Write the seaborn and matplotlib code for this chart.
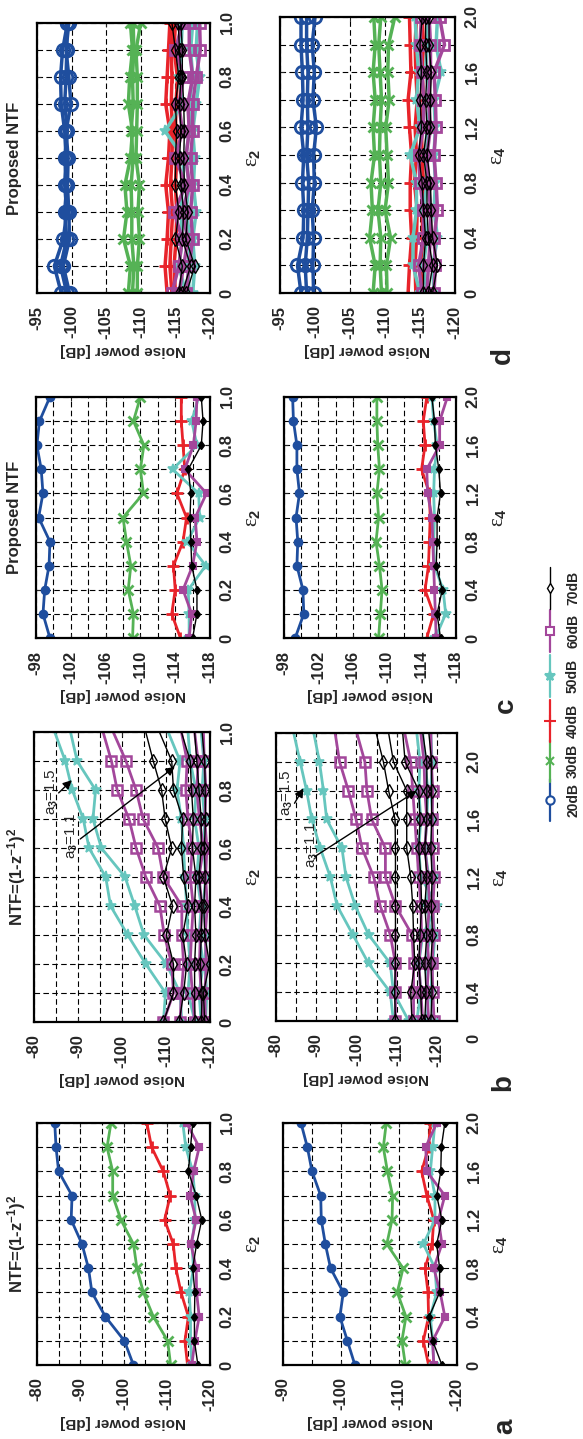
import matplotlib
matplotlib.use("Agg")
import matplotlib.pyplot as plt
import seaborn as sns
from matplotlib.ticker import MultipleLocator, FuncFormatter

# ---------------- data ----------------
EPS2 = [0, 0.1, 0.2, 0.3, 0.4, 0.5, 0.6, 0.7, 0.8, 0.9, 1.0]
EPS4 = [0, 0.2, 0.4, 0.6, 0.8, 1.0, 1.2, 1.4, 1.6, 1.8, 2.0]
EPS4_B = [0.2, 0.4, 0.6, 0.8, 1.0, 1.2, 1.4, 1.6, 1.8, 2.0, 2.2]
SNR_LABELS = ["20dB", "30dB", "40dB", "50dB", "60dB", "70dB"]

# panel a (NTF=(1-z^-1)^2)
A2_20 = [-102.3, -100.2, -95.8, -92.7, -91.9, -90.4, -87.9, -88.1, -85.0, -84.4, -84.1]
A2_30 = [-110.9, -110.2, -106.9, -104.6, -103.1, -102.3, -99.4, -97.5, -97.5, -96.2, -97.1]
A2_40 = [-114.8, -114.2, -115.0, -113.3, -112.1, -111.5, -109.5, -110.8, -109.2, -106.5, -105.4]
A2_50 = [-115.8, -115.5, -115.5, -115.2, -116.2, -115.8, -116.5, -116.5, -116.0, -114.4, -113.7]
A2_60 = [-115.8, -116.5, -117.5, -116.9, -116.8, -115.6, -116.8, -115.4, -116.2, -117.5, -114.6]
A2_70 = [-117.2, -116.4, -116.4, -116.5, -116.0, -116.9, -118.1, -116.8, -115.0, -115.5, -116.0]

A4_20 = [-102.4, -101.1, -99.8, -100.4, -98.2, -97.3, -96.6, -96.5, -95.0, -94.2, -93.1]
A4_30 = [-111.1, -110.5, -111.2, -109.7, -110.7, -107.9, -108.8, -108.9, -108.0, -107.3, -107.8]
A4_40 = [-115.1, -114.2, -115.1, -115.0, -114.5, -115.7, -116.0, -114.8, -113.9, -115.1, -115.4]
A4_50 = [-116.0, -115.8, -115.4, -116.5, -116.2, -114.2, -116.2, -116.2, -115.4, -115.8, -116.2]
A4_60 = [-116.0, -115.8, -117.9, -117.1, -116.0, -117.4, -116.8, -117.9, -114.8, -114.6, -116.5]
A4_70 = [-117.4, -115.8, -115.2, -117.0, -117.0, -116.5, -117.4, -116.5, -117.2, -117.3, -117.9]

# panel b (a3 = 1.5, 1.4, 1.3, 1.2, 1.1)
B2_50 = [[-109.4, -109.9, -105.4, -101.3, -97.4, -96.3, -92.5, -91.2, -88.7, -87.1, -84.7],
         [-113.6, -113.2, -110.1, -105.0, -102.9, -100.7, -95.3, -93.4, -94.0, -89.8, -88.3],
         [-116.6, -115.0, -115.5, -115.0, -114.7, -114.3, -114.0, -113.5, -112.5, -113.2, -110.5],
         [-118.0, -117.5, -118.5, -117.5, -118.0, -117.0, -117.5, -116.5, -116.8, -115.5, -115.0],
         [-119.0, -119.3, -118.8, -119.2, -118.5, -119.0, -118.6, -118.8, -118.2, -118.6, -118.0]]
B2_60 = [[-109.4, -111.7, -111.3, -109.6, -108.6, -105.4, -103.2, -101.6, -98.9, -97.6, -95.7],
         [-113.2, -113.5, -114.0, -113.6, -113.6, -109.4, -108.2, -104.8, -103.2, -100.9, -98.0],
         [-116.5, -116.0, -115.5, -115.8, -116.2, -115.5, -116.0, -115.0, -114.5, -114.8, -113.5],
         [-118.5, -118.0, -117.6, -117.8, -118.2, -117.5, -118.5, -117.6, -117.0, -117.3, -116.5],
         [-119.0, -118.8, -119.2, -118.9, -119.4, -119.0, -119.3, -118.8, -119.1, -118.7, -118.5]]
B2_70 = [[-109.4, -111.7, -111.7, -110.1, -111.5, -109.4, -111.3, -109.8, -109.0, -107.1, -105.4],
         [-113.0, -114.0, -114.7, -113.8, -115.0, -114.0, -113.5, -113.8, -111.7, -111.3, -108.5],
         [-116.6, -116.5, -116.5, -116.8, -116.5, -116.8, -116.0, -116.2, -115.8, -115.5, -113.5],
         [-118.0, -118.2, -117.8, -118.0, -118.2, -117.5, -118.0, -118.0, -117.5, -117.0, -116.5],
         [-118.8, -118.5, -119.9, -118.8, -118.6, -118.9, -118.7, -119.0, -118.9, -118.8, -118.2]]

B4_50 = [[-109.2, -108.4, -103.0, -99.1, -95.2, -93.5, -91.0, -88.9, -87.6, -86.0, -84.4],
         [-113.0, -109.2, -108.4, -103.0, -99.7, -97.4, -96.4, -92.6, -91.8, -90.8, -89.4],
         [-115.0, -116.0, -115.5, -116.5, -120.0, -116.0, -115.5, -116.0, -115.5, -115.8, -115.0],
         [-117.5, -118.0, -117.0, -118.5, -117.5, -118.0, -117.0, -117.5, -117.8, -117.0, -116.5],
         [-119.0, -118.5, -119.0, -119.5, -118.8, -119.2, -118.6, -119.0, -118.5, -118.8, -118.5]]
B4_60 = [[-109.7, -109.7, -109.7, -108.4, -105.9, -104.3, -101.4, -99.9, -98.0, -95.8, -94.7],
         [-114.2, -114.2, -114.2, -113.8, -109.7, -107.2, -107.2, -103.8, -102.6, -102.1, -100.1],
         [-116.5, -116.0, -115.5, -116.2, -116.0, -115.5, -115.0, -114.5, -114.0, -113.5, -112.0],
         [-118.0, -117.5, -118.0, -117.5, -118.2, -117.8, -117.0, -117.5, -117.0, -116.8, -116.0],
         [-119.3, -119.0, -118.8, -119.2, -119.0, -119.4, -119.0, -118.8, -119.0, -118.6, -118.5]]
B4_70 = [[-109.7, -109.5, -109.7, -109.7, -109.7, -109.7, -109.7, -109.6, -108.0, -106.7, -104.9],
         [-113.8, -113.5, -114.5, -114.2, -114.0, -113.5, -112.5, -112.5, -112.5, -109.2, -108.0],
         [-116.2, -116.0, -115.5, -115.8, -116.2, -116.0, -115.5, -115.8, -115.5, -112.1, -111.5],
         [-117.0, -117.3, -117.0, -117.5, -117.0, -117.5, -117.0, -117.5, -117.5, -117.5, -116.5],
         [-118.5, -118.8, -118.5, -118.9, -118.6, -118.8, -118.5, -118.7, -118.7, -118.7, -118.0]]

# panel c (proposed NTF)
C2_20 = [-99.6, -98.8, -99.0, -99.5, -99.6, -98.3, -98.8, -98.6, -98.1, -98.4, -99.6]
C2_30 = [-109.1, -109.2, -108.6, -108.9, -108.4, -108.0, -110.35, -110.0, -110.4, -109.2, -110.0]
C2_40 = [-114.6, -113.6, -114.0, -113.8, -114.9, -115.3, -114.2, -115.1, -114.9, -114.7, -114.7]
C2_50 = [-115.6, -115.6, -115.5, -117.5, -115.4, -116.8, -116.7, -113.7, -116.5, -115.9, -116.7]
C2_60 = [-115.6, -115.9, -114.9, -116.0, -116.5, -116.3, -117.6, -115.1, -116.1, -116.4, -116.5]
C2_70 = [-116.0, -116.5, -116.5, -115.9, -115.8, -115.7, -115.8, -115.5, -117.0, -117.2, -117.0]

C4_20 = [-99.3, -100.3, -100.2, -99.5, -99.6, -99.4, -99.8, -99.5, -99.5, -99.1, -99.0]
C4_30 = [-109.0, -109.2, -109.4, -109.1, -108.7, -109.0, -108.8, -109.1, -108.9, -108.8, -108.8]
C4_40 = [-114.6, -115.4, -114.4, -114.8, -114.9, -115.0, -114.9, -114.0, -114.4, -114.2, -114.6]
C4_50 = [-115.6, -116.8, -116.5, -115.5, -115.4, -115.5, -115.4, -115.5, -115.8, -115.4, -115.2]
C4_60 = [-115.7, -115.6, -115.5, -115.4, -115.3, -115.2, -114.7, -114.6, -116.1, -116.1, -117.0]
C4_70 = [-116.2, -115.8, -116.4, -115.7, -115.8, -115.8, -116.2, -116.0, -115.6, -115.5, -115.2]

# panel d (proposed NTF, several a3 values)
D2_20 = [[-98.5, -97.5, -98.8, -99.3, -99.0, -99.2, -99.0, -98.5, -98.4, -98.7, -99.4],
         [-99.3, -98.4, -99.3, -99.0, -99.3, -99.0, -99.4, -99.0, -99.2, -99.3, -99.3],
         [-99.7, -98.8, -99.7, -99.6, -99.4, -99.5, -99.2, -99.9, -99.6, -99.2, -99.6]]
D2_30 = [[-108.2, -108.5, -107.5, -108.0, -107.7, -108.5, -108.8, -108.2, -108.4, -108.8, -108.5],
         [-108.8, -109.0, -108.7, -108.7, -108.6, -108.9, -108.6, -108.9, -108.8, -109.0, -108.9],
         [-109.5, -109.5, -109.8, -109.6, -109.8, -109.3, -109.4, -109.5, -109.5, -109.3, -110.0]]
D2_40 = [[-113.8, -113.5, -113.8, -114.0, -113.6, -114.0, -114.2, -113.6, -113.8, -114.0, -114.2],
         [-114.5, -114.2, -114.4, -114.6, -114.3, -114.5, -114.6, -114.4, -114.5, -114.4, -114.6],
         [-115.0, -114.8, -115.1, -115.2, -115.0, -115.2, -115.0, -115.1, -115.3, -114.8, -115.0]]
D2_50 = [[-116.5, -115.5, -116.0, -115.8, -116.0, -116.2, -113.5, -116.0, -115.5, -115.8, -116.0],
         [-117.0, -116.8, -117.2, -116.5, -117.0, -116.5, -117.0, -117.0, -117.5, -117.2, -117.5],
         [-117.5, -117.8, -117.5, -118.0, -117.6, -117.8, -117.5, -118.0, -118.5, -118.0, -118.2]]
D2_60 = [[-114.5, -115.5, -116.0, -114.8, -116.5, -115.0, -116.0, -115.5, -116.2, -115.0, -116.0],
         [-115.5, -116.2, -116.8, -116.0, -117.0, -116.5, -117.0, -116.8, -117.5, -117.0, -117.0],
         [-116.5, -117.0, -117.5, -117.2, -117.5, -117.2, -117.5, -117.5, -118.0, -118.6, -118.5]]
D2_70 = [[-115.5, -116.0, -115.0, -115.5, -115.0, -115.0, -115.2, -115.0, -115.5, -115.0, -114.5],
         [-116.0, -117.2, -116.0, -116.2, -115.8, -115.6, -115.8, -115.6, -115.8, -115.6, -115.4],
         [-116.6, -117.8, -116.5, -116.8, -116.3, -116.2, -116.3, -116.2, -116.0, -116.0, -115.8]]

D4_20 = [[-98.0, -97.5, -98.3, -98.4, -98.2, -98.4, -98.0, -98.3, -98.2, -98.0, -98.0],
         [-98.8, -98.6, -98.9, -99.0, -99.1, -98.8, -99.0, -98.9, -99.0, -98.8, -98.8],
         [-99.8, -99.7, -99.8, -99.6, -99.9, -99.8, -100.2, -99.7, -99.9, -99.6, -100.0]]
D4_30 = [[-108.3, -108.6, -107.8, -108.2, -108.0, -108.5, -108.3, -108.6, -108.3, -108.6, -108.4],
         [-109.5, -109.3, -109.4, -109.0, -109.4, -109.2, -109.3, -109.5, -109.3, -109.1, -109.4],
         [-110.3, -110.2, -110.8, -110.0, -110.5, -110.3, -110.1, -110.6, -110.4, -110.5, -111.4]]
D4_40 = [[-113.3, -113.5, -113.8, -113.6, -113.6, -113.8, -113.5, -113.3, -113.7, -113.6, -113.5],
         [-114.4, -114.3, -114.5, -114.6, -114.2, -114.5, -114.3, -114.6, -114.4, -114.3, -114.5],
         [-115.3, -115.2, -115.4, -115.3, -115.5, -115.3, -115.2, -115.5, -115.3, -115.5, -115.3]]
D4_50 = [[-115.0, -114.0, -114.0, -114.5, -114.5, -113.6, -115.0, -114.5, -114.8, -114.5, -114.3],
         [-116.0, -115.5, -116.0, -115.5, -116.0, -115.8, -116.0, -116.5, -115.8, -116.0, -116.0],
         [-117.0, -116.8, -117.5, -117.0, -117.2, -117.0, -117.2, -117.0, -118.0, -117.3, -117.5]]
D4_60 = [[-115.3, -114.8, -115.5, -115.5, -115.0, -114.8, -115.5, -115.5, -115.3, -115.0, -115.2],
         [-116.0, -116.2, -116.5, -116.5, -116.2, -116.0, -116.5, -116.2, -116.5, -116.5, -116.3],
         [-117.0, -117.2, -117.0, -117.5, -117.3, -117.0, -117.3, -117.2, -117.0, -118.5, -117.8]]
D4_70 = [[-115.5, -115.5, -115.8, -115.5, -115.3, -114.8, -115.2, -115.0, -115.2, -115.0, -115.3],
         [-116.2, -116.8, -116.2, -116.0, -116.0, -115.5, -116.0, -115.8, -116.0, -115.8, -115.8],
         [-116.8, -117.5, -116.8, -116.6, -116.5, -116.0, -116.5, -116.5, -116.6, -116.3, -116.3]]

# ---------------- style ----------------
sns.set_style("ticks")
plt.rcParams["font.family"] = ["Liberation Sans", "DejaVu Sans"]
plt.rcParams["font.weight"] = "bold"
plt.rcParams["mathtext.fontset"] = "custom"
plt.rcParams["mathtext.rm"] = "Liberation Sans"
plt.rcParams["mathtext.bf"] = "Liberation Sans:bold"
plt.rcParams["mathtext.it"] = "Liberation Sans:italic"
plt.rcParams["axes.unicode_minus"] = False
plt.rcParams["ytick.alignment"] = "center"

BLUE = "#1F4E9E"
GREEN = "#55B255"
RED = "#E8232A"
CYAN = "#66C6BE"
MAGENTA = "#A3479B"
BLACK = "#000000"
COLORS = [BLUE, GREEN, RED, CYAN, MAGENTA, BLACK]
MARKERS = ["o", "x", "+", "*", "s", "d"]

W, H = 583, 1439


def rect(x0, y0, x1, y1):
    return [x0 / W, 1 - y1 / H, (x1 - x0) / W, (y1 - y0) / H]


def line(ax, vals, eps, color, marker, ms, lw, filled=True, mew=1.5, markevery=None):
    sns.lineplot(x=vals, y=eps, orient="y", sort=False, estimator=None, ax=ax,
                 legend=False, color=color, marker=marker, markersize=ms,
                 linewidth=lw, markerfacecolor=color if filled else "none",
                 markeredgecolor=color, markeredgewidth=mew, markevery=markevery)


def setup(ax, nlim, nmaj, nmin, elim, emaj, emin, elabel, noff=0):
    ax.set_xlim(*nlim)
    ax.set_ylim(*elim)
    ax.xaxis.set_major_locator(MultipleLocator(nmaj, offset=noff))
    ax.xaxis.set_minor_locator(MultipleLocator(nmin))
    ax.yaxis.set_major_locator(MultipleLocator(emaj))
    ax.yaxis.set_minor_locator(MultipleLocator(emin))
    ax.xaxis.set_major_formatter(FuncFormatter(lambda v, p: f"{v:.0f}"))
    ax.yaxis.set_major_formatter(FuncFormatter(lambda v, p: "0" if abs(v) < 1e-9 else f"{v:.1f}"))
    ax.yaxis.tick_right()
    ax.yaxis.set_label_position("right")
    ax.tick_params(which="both", direction="in", length=3, width=0.8, top=True, bottom=True,
                   left=True, right=True, labelleft=False, labelright=True,
                   labeltop=False, labelbottom=True)
    ax.tick_params(which="minor", length=0)
    ax.tick_params(axis="x", labelrotation=90, pad=9, labelsize=12)
    ax.tick_params(axis="y", labelrotation=90, pad=7, labelsize=12)
    ax.grid(True, which="both", color="k", linewidth=0.8, linestyle=(0, (5, 3)))
    ax.set_axisbelow(True)
    for s in ax.spines.values():
        s.set_linewidth(1.6)
        s.set_color("k")
    ax.set_xlabel("Noise power [dB]", rotation=180, fontsize=11, fontweight="bold", labelpad=3)
    ax.set_ylabel(elabel, rotation=90, fontsize=15, fontweight="normal",
                  family=["Liberation Serif", "DejaVu Serif"], labelpad=7)


fig = plt.figure(figsize=(W / 100, H / 100), dpi=100)

ax_a2 = fig.add_axes(rect(37, 1123, 210, 1365))
ax_a4 = fig.add_axes(rect(283, 1123, 457, 1365))
ax_b2 = fig.add_axes(rect(34, 732, 210, 1022))
ax_b4 = fig.add_axes(rect(276, 733, 457, 1021))
ax_c2 = fig.add_axes(rect(36, 397, 210, 638))
ax_c4 = fig.add_axes(rect(284, 397, 456, 638))
ax_d2 = fig.add_axes(rect(37, 23, 210, 293))
ax_d4 = fig.add_axes(rect(280, 17, 455, 293))

# ---- style per SNR for panels a and c (small filled markers) ----
AC_MS = [5.5, 7, 9, 7.5, 5, 4.5]
AC_LW = [2.0, 2.0, 2.0, 2.0, 2.0, 1.0]
AC_MEW = [1.5, 2.0, 2.0, 1.2, 1.5, 1.0]

for ax, ser, eps in [(ax_a2, [A2_20, A2_30, A2_40, A2_50, A2_60, A2_70], EPS2),
                     (ax_a4, [A4_20, A4_30, A4_40, A4_50, A4_60, A4_70], EPS4),
                     (ax_c2, [C2_20, C2_30, C2_40, C2_50, C2_60, C2_70], EPS2),
                     (ax_c4, [C4_20, C4_30, C4_40, C4_50, C4_60, C4_70], EPS4)]:
    for i, vals in enumerate(ser):
        line(ax, vals, eps, COLORS[i], MARKERS[i], AC_MS[i], AC_LW[i], True, AC_MEW[i])

# ---- panel b ----
skip_last = list(range(10))
for ax, groups, eps in [(ax_b2, [B2_50, B2_60, B2_70], EPS2),
                        (ax_b4, [B4_50, B4_60, B4_70], EPS4_B)]:
    for vals in groups[0]:
        line(ax, vals, eps, CYAN, "*", 8, 2.0, True, 1.2, skip_last)
    for vals in groups[1]:
        line(ax, vals, eps, MAGENTA, "s", 7, 2.0, False, 1.8, skip_last)
    for vals in groups[2]:
        line(ax, vals, eps, BLACK, "d", 7, 1.0, False, 1.0, skip_last)

# ---- panel d ----
D_MS = [9, 7, 9, 8, 7, 7]
D_LW = [2.5, 2.5, 2.5, 2.5, 2.5, 1.0]
D_FILL = [False, True, True, True, False, False]
D_MEW = [2.0, 2.0, 2.0, 1.2, 2.0, 1.0]
for ax, ser, eps in [(ax_d2, [D2_20, D2_30, D2_40, D2_50, D2_60, D2_70], EPS2),
                     (ax_d4, [D4_20, D4_30, D4_40, D4_50, D4_60, D4_70], EPS4)]:
    for i, group in enumerate(ser):
        for vals in group:
            line(ax, vals, eps, COLORS[i], MARKERS[i], D_MS[i], D_LW[i], D_FILL[i], D_MEW[i])

# ---- axes ----
E2 = "ε$_2$"
E4 = "ε$_4$"
setup(ax_a2, (-80, -120), 10, 5, (0, 1.0), 0.2, 0.1, E2)
setup(ax_a4, (-90, -120), 10, 5, (0, 2.0), 0.4, 0.2, E4)
setup(ax_b2, (-80, -120), 10, 5, (0, 1.0), 0.2, 0.1, E2)
setup(ax_b4, (-80, -125), 10, 5, (0.2, 2.2), 0.4, 0.2, E4)
setup(ax_c2, (-98, -118), 4, 2, (0, 1.0), 0.2, 0.1, E2, noff=2)
setup(ax_c4, (-98, -118), 4, 2, (0, 2.0), 0.4, 0.2, E4, noff=2)
setup(ax_d2, (-95, -120), 5, 5, (0, 1.0), 0.2, 0.1, E2)
setup(ax_d4, (-95, -120), 5, 5, (0, 2.0), 0.4, 0.2, E4)

ax_b4.annotate("0", xy=(1, 0.08), xycoords=("axes fraction", "data"), xytext=(7, 0),
               textcoords="offset points", rotation=90, ha="left", va="center",
               fontsize=12, fontweight="bold", annotation_clip=False)

# annotations a3
ARW = dict(arrowstyle="-|>", color="k", lw=1.0, mutation_scale=13, shrinkA=0, shrinkB=0)
ax_b2.text(-84.1, 0.793, "a$_3$=1.5", rotation=90, ha="center", va="center", fontsize=11, fontweight="normal")
ax_b2.annotate("", xy=(-88.6, 0.834), xytext=(-85.6, 0.79), arrowprops=ARW)
ax_b2.text(-88.6, 0.641, "a$_3$=1.1", rotation=90, ha="center", va="center", fontsize=11, fontweight="normal")
ax_b2.annotate("", xy=(-112.0, 0.88), xytext=(-90.5, 0.631), arrowprops=ARW)
ax_b4.text(-82.7, 1.783, "a$_3$=1.5", rotation=90, ha="center", va="center", fontsize=11, fontweight="normal")
ax_b4.annotate("", xy=(-86.8, 1.816), xytext=(-84.6, 1.712), arrowprops=ARW)
ax_b4.text(-89.0, 1.422, "a$_3$=1.1", rotation=90, ha="center", va="center", fontsize=11, fontweight="normal")
ax_b4.annotate("", xy=(-115.0, 1.799), xytext=(-89.6, 1.341), arrowprops=ARW)

# titles
NTF = r"NTF=(1-z$^{\mathbf{-1}}$)$^{\mathbf{2}}$"
for (x, y, t) in [(17, 1244, NTF), (17, 877, NTF), (15, 517, "Proposed NTF"), (15, 158, "Proposed NTF")]:
    fig.text(x / W, 1 - y / H, t, rotation=90, ha="center", va="center", fontsize=12, fontweight="bold")

# panel letters
for (x, y, t) in [(505, 1426, "a"), (503, 1083, "b"), (506, 705, "c"), (503, 355, "d")]:
    fig.text(x / W, 1 - y / H, t, rotation=90, ha="center", va="center", fontsize=20, fontweight="bold")

# legend (vertical key)
LEG_Y = [800, 761, 721, 676, 631, 588]
LEG_MS = [6, 6, 8, 7, 6, 5]
leg = fig.add_axes(rect(530, 560, 583, 830))
leg.set_xlim(530, 583)
leg.set_ylim(830, 560)
leg.axis("off")
for i, lab in enumerate(SNR_LABELS):
    yc = LEG_Y[i]
    lw = 1.0 if i == 5 else 1.6
    leg.plot([550, 550], [yc - 21, yc + 21], color=COLORS[i], lw=lw)
    leg.plot([550], [yc], color=COLORS[i], marker=MARKERS[i], ms=LEG_MS[i],
             mfc="white" if MARKERS[i] in ("o", "s", "d") else COLORS[i],
             mec=COLORS[i], mew=1.5 if i < 5 else 1.0)
    leg.text(573, yc, lab, rotation=90, ha="center", va="center", fontsize=10, fontweight="bold")

fig.savefig("out.png", dpi=100)
